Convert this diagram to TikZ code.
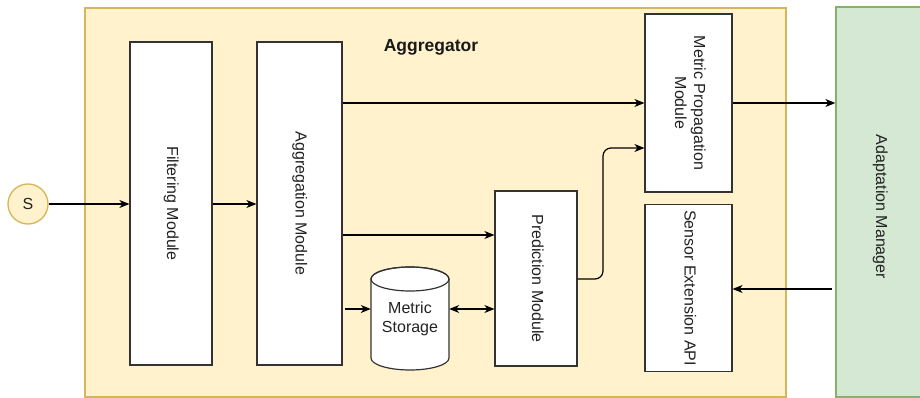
\documentclass[tikz,border=0pt]{standalone}
\usepackage{fontspec}
\setmainfont{Liberation Sans}
\usepackage{graphicx}
\usetikzlibrary{arrows.meta}
\definecolor{aggfill}{HTML}{FFF2CC}
\definecolor{aggdraw}{HTML}{D6B656}
\definecolor{amfill}{HTML}{D5E8D4}
\definecolor{amdraw}{HTML}{82B366}
\definecolor{txt}{HTML}{222222}
\definecolor{edge}{HTML}{333333}
\tikzset{
  module/.style={draw=edge, fill=white, line width=1.2pt, inner sep=0pt, text=txt,
    font=\fontsize{16}{19}\selectfont, align=center},
  arr/.style={draw=black, line width=1.2pt, -{Stealth[length=10pt,width=8pt,inset=3pt]}},
  darr/.style={draw=black, line width=1.2pt, {Stealth[length=10pt,width=8pt,inset=3pt]}-{Stealth[length=10pt,width=8pt,inset=3pt]}},
}
\newcommand{\vtext}[1]{\rotatebox{-90}{\begin{tabular}{c}#1\end{tabular}}}
\begin{document}
\begin{tikzpicture}[x=1pt,y=-1pt]
\useasboundingbox (0,0) rectangle (920,398);
\fill[white] (0,0) rectangle (920,398);
% containers
\node[draw=aggdraw, fill=aggfill, line width=1.3pt, minimum width=701pt, minimum height=389pt, inner sep=0pt] (agg) at (435.5,202.5) {};
\begin{scope}
\clip (0,0) rectangle (920,398);
\node[draw=amdraw, fill=amfill, line width=1.3pt, minimum width=89pt, minimum height=390pt, inner sep=0pt] (am) at (880.5,202) {};
\end{scope}
\node[text=txt, font=\fontsize{16}{19}\selectfont] (amlabel) at (880,207) {\vtext{Adaptation Manager}};
\node[font=\bfseries\fontsize{17.5}{20}\selectfont, text=black!90] (agglabel) at (431,47) {Aggregator};
% source
\node[circle, draw=aggdraw, fill=aggfill, line width=1.3pt, minimum size=40pt, inner sep=0pt, text=txt, font=\fontsize{16}{19}\selectfont] (s) at (28,204) {S};
% modules
\node[module, minimum width=82pt, minimum height=323pt] (filt) at (171,203.5) {\vtext{Filtering Module}};
\node[module, minimum width=85pt, minimum height=323pt] (aggm) at (299.5,203.5) {\vtext{Aggregation Module}};
\node[module, minimum width=82pt, minimum height=175pt] (pred) at (536,278.5) {\vtext{Prediction Module}};
\node[module, minimum width=87pt, minimum height=178pt] (mp) at (688.5,103) {\vtext{Metric Propagation\\Module}};
\node[module, minimum width=87pt, minimum height=166pt] (sens) at (688.5,288) {\vtext{Sensor Extension API}};
% metric storage cylinder
\node[minimum width=78pt, minimum height=103pt, inner sep=0pt] (ms) at (410,318.5) {};
\filldraw[fill=white, draw=edge, line width=1.2pt]
  (371,279) -- (371,358) arc[start angle=180, end angle=360, x radius=39pt, y radius=12pt]
  -- (449,279) arc[start angle=0, end angle=180, x radius=39pt, y radius=12pt] -- cycle;
\draw[draw=edge, line width=1.2pt] (410,279) ellipse[x radius=39pt, y radius=12pt];
\node[text=txt, font=\fontsize{16}{19}\selectfont, align=center] (mslabel) at (410,319) {Metric\\Storage};
% connectors
\draw[arr] (s.east) -- (s.east -| filt.west);
\draw[arr] (filt.east |- s.east) -- (aggm.west |- s.east);
\draw[arr] (aggm.east |- mp.west) -- (mp.west);
\draw[arr] (aggm.east |- 0,235) -- (pred.west |- 0,235);
\coordinate (msin) at (345,309);
\draw[arr] (msin) -- (msin -| ms.west);
\draw[darr] (ms.east |- 0,309) -- (pred.west |- 0,309);
\draw[arr, rounded corners=8pt] (pred.east |- 0,279) -- (603,279) -- (603,148) -- (mp.west |- 0,148);
\draw[arr] (mp.east) -- (am.west |- mp.east);
\coordinate (amout) at (832,289);
\draw[arr] (amout) -- (sens.east |- amout);
\end{tikzpicture}
\end{document}
